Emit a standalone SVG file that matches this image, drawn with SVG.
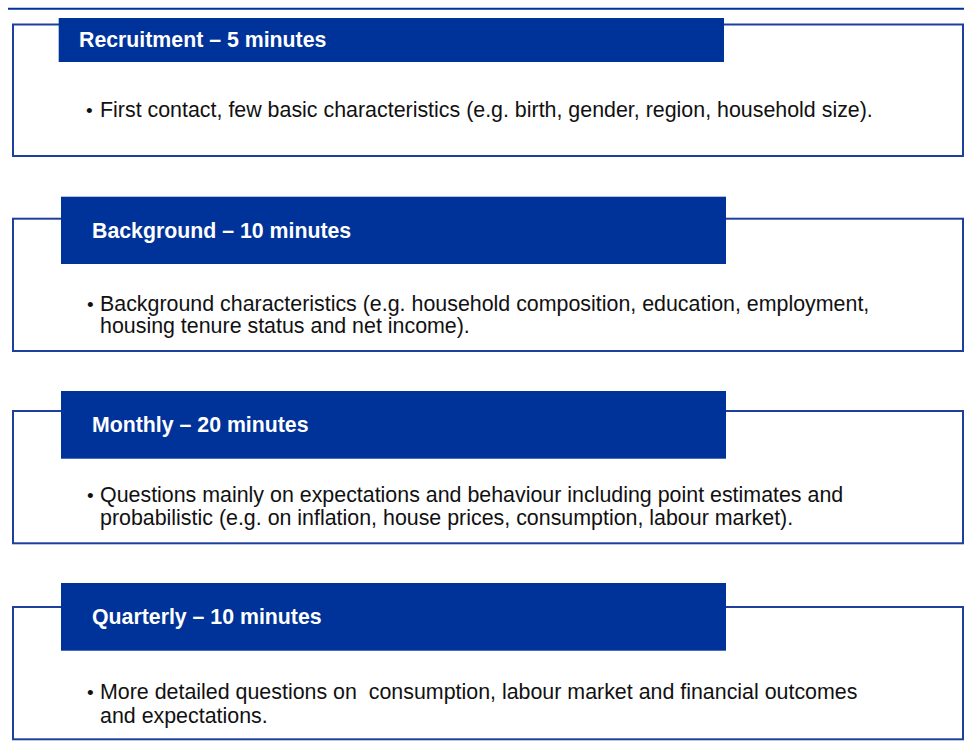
<svg xmlns="http://www.w3.org/2000/svg" width="965" height="749" viewBox="0 0 965 749">
<style>
.frame{fill:#ffffff;stroke:#1f3f9f;stroke-width:2}
.hdr{fill:#003399}
.ht{font-family:"Liberation Sans",Arial,sans-serif;font-weight:bold;font-size:21.3px;fill:#ffffff}
.bt{font-family:"Liberation Sans",Arial,sans-serif;font-size:21.4px;fill:#111111}
.bul{font-family:"Liberation Sans",Arial,sans-serif;font-size:19px;fill:#111111}
</style>
<rect width="965" height="749" fill="#ffffff"/>
<line x1="8" y1="8.7" x2="964" y2="8.7" stroke="#003399" stroke-width="2"/>
<g id="recruitment">
<rect class="frame" x="13" y="24.5" width="950" height="131.5"/>
<rect class="hdr" x="58.7" y="18" width="665.3" height="44"/>
<text class="ht" x="79" y="46.7">Recruitment – 5 minutes</text>
<text class="bul" x="86" y="116.5">•</text>
<text class="bt" x="100" y="116.7">First contact, few basic characteristics (e.g. birth, gender, region, household size).</text>
</g>
<g id="background">
<rect class="frame" x="13" y="218.7" width="950" height="132.3"/>
<rect class="hdr" x="61" y="196.7" width="665" height="67.3"/>
<text class="ht" x="92" y="237.7">Background – 10 minutes</text>
<text class="bul" x="87" y="310.5">•</text>
<text class="bt" x="100" y="310.7">Background characteristics (e.g. household composition, education, employment,</text>
<text class="bt" x="100" y="333.3">housing tenure status and net income).</text>
</g>
<g id="monthly">
<rect class="frame" x="13" y="411" width="950" height="132.3"/>
<rect class="hdr" x="61" y="391" width="665" height="67.7"/>
<text class="ht" x="92" y="432.3">Monthly – 20 minutes</text>
<text class="bul" x="87" y="501.5">•</text>
<text class="bt" x="100" y="501.7">Questions mainly on expectations and behaviour including point estimates and</text>
<text class="bt" x="100" y="525">probabilistic (e.g. on inflation, house prices, consumption, labour market).</text>
</g>
<g id="quarterly">
<rect class="frame" x="13" y="607" width="950" height="132.3"/>
<rect class="hdr" x="61" y="583" width="665" height="67.7"/>
<text class="ht" x="92" y="624">Quarterly – 10 minutes</text>
<text class="bul" x="87" y="699">•</text>
<text class="bt" x="100" y="699.3" xml:space="preserve">More detailed questions on  consumption, labour market and financial outcomes</text>
<text class="bt" x="100" y="722.7">and expectations.</text>
</g>
<g id="connectors"/>
</svg>
